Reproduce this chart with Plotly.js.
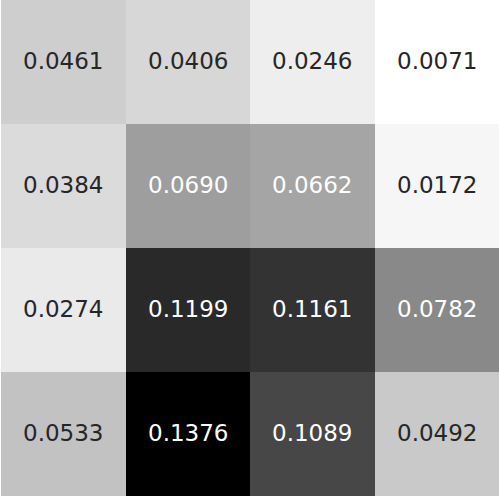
<!DOCTYPE html>
<html><head><meta charset="utf-8">
<script src="https://cdn.plot.ly/plotly-3.0.1.min.js"></script>
<style>html,body{margin:0;padding:0;background:#fff;}#chart{width:499px;height:497px;}</style>
</head><body><div id="chart"></div>
<script>
const rowLabels = ['0','1','2','3'];
const colLabels = ['0','1','2','3'];
const values = [
  [0.0461, 0.0406, 0.0246, 0.0071],
  [0.0384, 0.0690, 0.0662, 0.0172],
  [0.0274, 0.1199, 0.1161, 0.0782],
  [0.0533, 0.1376, 0.1089, 0.0492]
];

const greys = [[0,'#ffffff'],[0.125,'#f0f0f0'],[0.25,'#d9d9d9'],[0.375,'#bdbdbd'],[0.5,'#969696'],[0.625,'#737373'],[0.75,'#525252'],[0.875,'#252525'],[1,'#000000']];
const flat = values.flat();
const vmin = Math.min(...flat), vmax = Math.max(...flat);

const annotations = [];
values.forEach((row, i) => row.forEach((v, j) => {
  const t = (v - vmin) / (vmax - vmin);
  annotations.push({x: colLabels[j], y: rowLabels[i], text: v.toFixed(4), showarrow: false, yshift: 1,
    font: {family: 'DejaVu Sans', size: 23, color: t > 0.45 ? '#ffffff' : '#262626'}});
}));

Plotly.newPlot('chart', [{
  type: 'heatmap', z: values, x: colLabels, y: rowLabels,
  colorscale: greys, zmin: vmin, zmax: vmax, showscale: false, hoverinfo: 'none'
}], {
  width: 499, height: 497,
  margin: {l: 1, r: 0, t: 0, b: 1, pad: 0},
  paper_bgcolor: '#ffffff', plot_bgcolor: '#ffffff',
  xaxis: {type: 'category', showgrid: false, zeroline: false, showticklabels: false, ticks: 'outside', ticklen: 5, tickcolor: '#000', showline: false},
  yaxis: {type: 'category', autorange: 'reversed', showgrid: false, zeroline: false, showticklabels: false, ticks: 'outside', ticklen: 5, tickcolor: '#000', showline: false},
  annotations: annotations
}, {displayModeBar: false, staticPlot: true});
</script></body></html>
